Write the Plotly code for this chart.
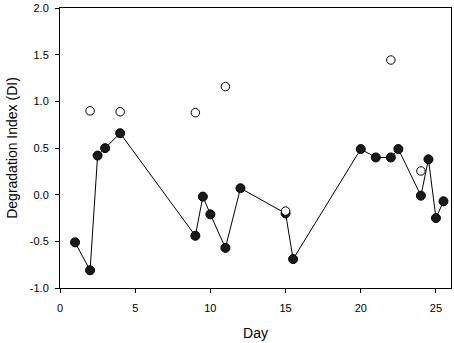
import plotly.graph_objects as go

filled_day = [1, 2, 2.5, 3, 4, 9, 9.5, 10, 11, 12, 15, 15.5, 20, 21, 22, 22.5, 24, 24.5, 25, 25.5]
filled_di = [-0.51, -0.81, 0.42, 0.50, 0.66, -0.44, -0.02, -0.21, -0.57, 0.07, -0.20, -0.69,
             0.49, 0.40, 0.40, 0.49, -0.01, 0.38, -0.25, -0.07]
open_day = [2, 4, 9, 11, 15, 22, 24]
open_di = [0.90, 0.89, 0.88, 1.16, -0.175, 1.445, 0.255]

x_ticks = [0, 5, 10, 15, 20, 25]
y_ticks = [-1.0, -0.5, 0.0, 0.5, 1.0, 1.5, 2.0]

FONT = "Liberation Sans, Arial, sans-serif"

fig = go.Figure()
fig.add_trace(go.Scatter(
    x=filled_day, y=filled_di, mode="lines+markers",
    line=dict(color="black", width=1),
    marker=dict(size=9, color="#1a1a1a", line=dict(color="black", width=1)),
    showlegend=False, cliponaxis=False))
fig.add_trace(go.Scatter(
    x=open_day, y=open_di, mode="markers",
    marker=dict(size=8.5, color="white", line=dict(color="black", width=1)),
    showlegend=False, cliponaxis=False))

axis_common = dict(
    showgrid=False, zeroline=False, showline=True, linecolor="black", linewidth=1,
    mirror=True, ticks="outside", ticklen=4, tickcolor="black", tickwidth=1,
    tickfont=dict(family=FONT, size=11, color="black"),
)
fig.update_xaxes(range=[0, 26], tickvals=x_ticks, ticktext=[str(v) for v in x_ticks],
                 ticklabelstandoff=6,
                 title=dict(text="Day", font=dict(family=FONT, size=14, color="black"), standoff=14),
                 **axis_common)
fig.update_yaxes(range=[-1, 2.003], tickvals=y_ticks, ticktext=[f"{v:.1f}" for v in y_ticks],
                 ticklabelstandoff=4,
                 title=dict(text="Degradation Index (DI)", font=dict(family=FONT, size=14, color="black"), standoff=8),
                 **axis_common)
fig.update_layout(
    width=454, height=343, margin=dict(l=60, r=2, t=6, b=55),
    plot_bgcolor="white", paper_bgcolor="white",
)
fig.write_html(
    "out.html",
    config={"displayModeBar": False},
    post_script="document.body.style.margin='0';document.body.style.overflow='hidden';",
)
